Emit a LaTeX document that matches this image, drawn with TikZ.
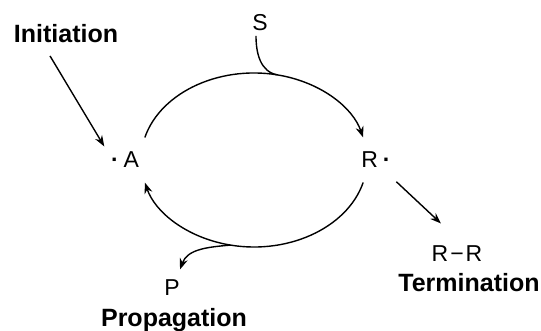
\documentclass[tikz,border=0pt]{standalone}
\usepackage{fontspec}
\setmainfont{Liberation Sans}
\usetikzlibrary{
  arrows.meta,  % Stealth 箭头
  calc          % 坐标计算
}

\begin{document}
\begin{tikzpicture}[>={Stealth[length=5.5pt, width=4pt]}, x=0.5pt, y=0.5pt, line width=0.7pt,
    species/.style={font=\fontsize{11.5}{13}\selectfont, inner sep=2pt, anchor=base},
    stage/.style={font=\fontsize{12.5}{14}\selectfont\bfseries, inner sep=2pt, anchor=base}]
  \useasboundingbox (0,0) rectangle (541,331);

  % === 物种标签 ===
  \node[species] (S) at (260, 300) {S};
  \node[species] (A) at (125, 163) {{\bfseries ·}\kern2.5pt A};
  \node[species] (R) at (376, 163) {R\kern2.5pt {\bfseries ·}};
  \node[species] (RR) at (457, 69) {R\kern1pt −\kern1pt R};
  \node[species] (P) at (172, 35) {P};

  % === 阶段名称 ===
  \node[stage] (init) at (66, 288) {Initiation};
  \node[stage] (term) at (469, 39) {Termination};
  \node[stage] (prop) at (174, 4) {Propagation};

  % === 循环（椭圆两段弧） ===
  % 椭圆中心 (254, 171)，半轴 113 与 87
  \coordinate (c) at (254, 171);
  \draw[->] ($(c)+(165:113 and 87)$) arc[start angle=165, end angle=15, x radius=113, y radius=87];
  \draw[->] ($(c)+(-15:113 and 87)$) arc[start angle=-15, end angle=-165, x radius=113, y radius=87];

  % === S 汇入上弧，P 自下弧分出 ===
  \coordinate (S in) at ($(c)+(78:113 and 87)$);
  \coordinate (P out) at ($(c)+(-102:113 and 87)$);
  \draw ([shift={(-4,0)}]S.south) to[out=-90, in=170] (S in);
  \draw[->] (P out) to[out=185, in=70] ([shift={(8,6)}]P.north);

  % === 引发与终止箭头 ===
  \draw[->] ([shift={(-16,-8)}]init.south) -- ([shift={(-2,1)}]A.north west);
  \draw[->] ([shift={(1,-9)}]R.south east) -- ([shift={(14,18)}]RR.north west);
\end{tikzpicture}
\end{document}
